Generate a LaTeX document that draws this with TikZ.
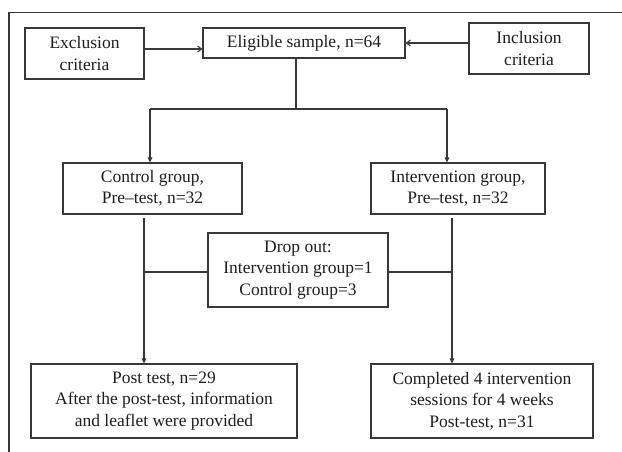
\documentclass[tikz,border=0pt]{standalone}
\usepackage{fontspec}
\setmainfont{Liberation Serif}
\usetikzlibrary{arrows.meta}
\definecolor{ln}{HTML}{383838}
\definecolor{tx}{HTML}{1E1E1E}
\begin{document}
\begin{tikzpicture}[x=1pt,y=-1pt,
  box/.style={draw=ln,line width=1.1pt,rectangle,inner sep=0pt,align=center,
    text=tx,font=\fontsize{17.5}{21.5}\selectfont},
  conn/.style={draw=ln,line width=1.1pt},
  harr/.style={conn,-{Straight Barb[length=4pt,width=6pt]}},
  varr/.style={conn,-{Triangle[length=5pt,width=4.5pt]}}]
\useasboundingbox (0,0) rectangle (622,452);
\draw[conn] (9,452) -- (9,12.3) -- (622,12.3);
\node[box,minimum width=119pt,minimum height=51pt] (excl) at (84.5,53.5) {Exclusion\\criteria};
\node[box,minimum width=202pt,minimum height=30pt] (elig) at (304,43) {Eligible sample, n=64};
\node[box,minimum width=120pt,minimum height=51pt] (incl) at (529,48.5) {Inclusion\\criteria};
\node[box,minimum width=179pt,minimum height=51pt] (ctrl) at (152.5,188.5) {Control group,\\Pre--test, n=32};
\node[box,minimum width=174pt,minimum height=51pt] (intv) at (458,188.5) {Intervention group,\\Pre--test, n=32};
\node[box,minimum width=180pt,minimum height=74pt] (drop) at (298,270) {Drop out:\\Intervention group=1\\Control group=3};
\node[box,minimum width=266pt,minimum height=74pt] (post) at (164,401) {Post test, n=29\\After the post-test, information\\and leaflet were provided};
\node[box,minimum width=222pt,minimum height=74pt] (comp) at (482,401) {Completed 4 intervention\\sessions for 4 weeks\\Post-test, n=31};
\coordinate (s) at (296,109);
\coordinate (sl) at (150,109);
\coordinate (sr) at (447,109);
\coordinate (cl) at (144,218);
\coordinate (cr) at (452,218);
\coordinate (dy) at (0,272);
\draw[harr] ([yshift=4.5pt]excl.east) -- ([yshift=4.5pt]excl.east -| elig.west);
\draw[harr] (incl.west |- elig.east) -- (elig.east);
\draw[conn] (elig.south -| s) -- (s);
\draw[conn] (sl) -- (sr);
\draw[varr] (sl) -- (sl |- ctrl.north);
\draw[varr] (sr) -- (sr |- intv.north);
\draw[varr] (cl) -- (cl |- post.north);
\draw[varr] (cr) -- (cr |- comp.north);
\draw[conn] (drop.west |- dy) -- (cl |- dy);
\draw[conn] (drop.east |- dy) -- (cr |- dy);
\end{tikzpicture}
\end{document}
